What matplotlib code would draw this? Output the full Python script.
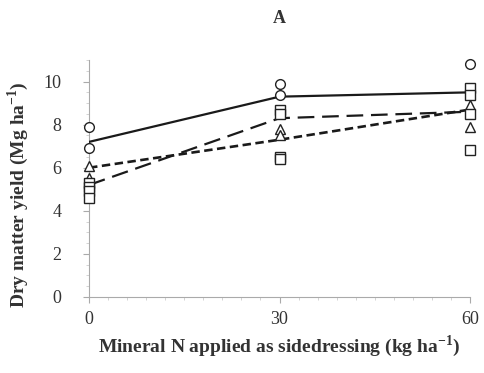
import matplotlib.pyplot as plt
from matplotlib.ticker import MultipleLocator

plt.rcParams['font.family'] = ['Liberation Serif', 'DejaVu Serif']
plt.rcParams['mathtext.fontset'] = 'custom'
plt.rcParams['mathtext.rm'] = 'Liberation Serif:bold'
plt.rcParams['mathtext.bf'] = 'Liberation Serif:bold'

# sidedressing rates (kg N ha-1)
n_rates = [0, 30, 60]

# treatment means (lines)
mean_solid = [7.2, 9.3, 9.5]
mean_long = [5.2, 8.3, 8.6]
mean_short = [6.0, 7.3, 8.7]

# individual observations
circle_x = [0, 0, 30, 30, 60]
circle_y = [7.9, 6.9, 9.9, 9.4, 10.8]
triangle_x = [0, 0, 30, 30, 60, 60]
triangle_y = [6.1, 5.5, 7.8, 7.5, 8.9, 7.9]
square_x = [0, 0, 0, 0, 30, 30, 30, 30, 60, 60, 60, 60]
square_y = [5.3, 5.1, 4.9, 4.6, 8.7, 8.5, 6.5, 6.4, 9.7, 9.4, 8.5, 6.8]

fig = plt.figure(figsize=(4.84, 3.73), dpi=100)
ax = fig.add_axes([0.184, 0.204, 0.787, 0.635])

ax.plot(n_rates, mean_solid, color='#1a1a1a', lw=1.6, ls='-', zorder=3)
ax.plot(n_rates, mean_long, color='#1a1a1a', lw=1.6, dashes=(7.5, 3.5), zorder=3)
ax.plot(n_rates, mean_short, color='#1a1a1a', lw=1.9, dashes=(3.2, 1.7), zorder=3)

mk = dict(ls='none', mfc='white', mec='#222222', mew=1.0, ms=7, zorder=4,
          clip_on=False)
ax.plot(circle_x, circle_y, marker='o', **mk)
ax.plot(triangle_x, triangle_y, marker='^', **mk)
ax.plot(square_x, square_y, marker='s', **mk)

ax.set_xlim(0, 60)
ax.set_ylim(0, 11)
ax.set_xticks(n_rates)
ax.yaxis.set_major_locator(MultipleLocator(2))
ax.yaxis.set_minor_locator(MultipleLocator(0.5))
ax.xaxis.set_minor_locator(MultipleLocator(3))

for side in ('top', 'right'):
    ax.spines[side].set_visible(False)
for side in ('left', 'bottom'):
    ax.spines[side].set_color('#aaaaaa')
    ax.spines[side].set_linewidth(0.8)
ax.tick_params(which='major', length=4, color='#aaaaaa', labelsize=13,
               labelcolor='#333333', pad=6)
ax.tick_params(which='minor', length=2, color='#cccccc')
ax.tick_params(axis='y', which='both', direction='out', pad=16)

ax.set_xlabel('Mineral N applied as sidedressing (kg ha$^{-1}$)',
              fontsize=14, fontweight='bold', color='#333333', labelpad=4)
ax.set_ylabel('Dry matter yield (Mg ha$^{-1}$)',
              fontsize=14, fontweight='bold', color='#333333', labelpad=4)
ax.yaxis.set_label_coords(-0.152, 0.43)
fig.text(0.577, 0.951, 'A', ha='center', va='center', fontsize=13,
         fontweight='bold', color='#333333')

fig.savefig('out.png', dpi=100)
